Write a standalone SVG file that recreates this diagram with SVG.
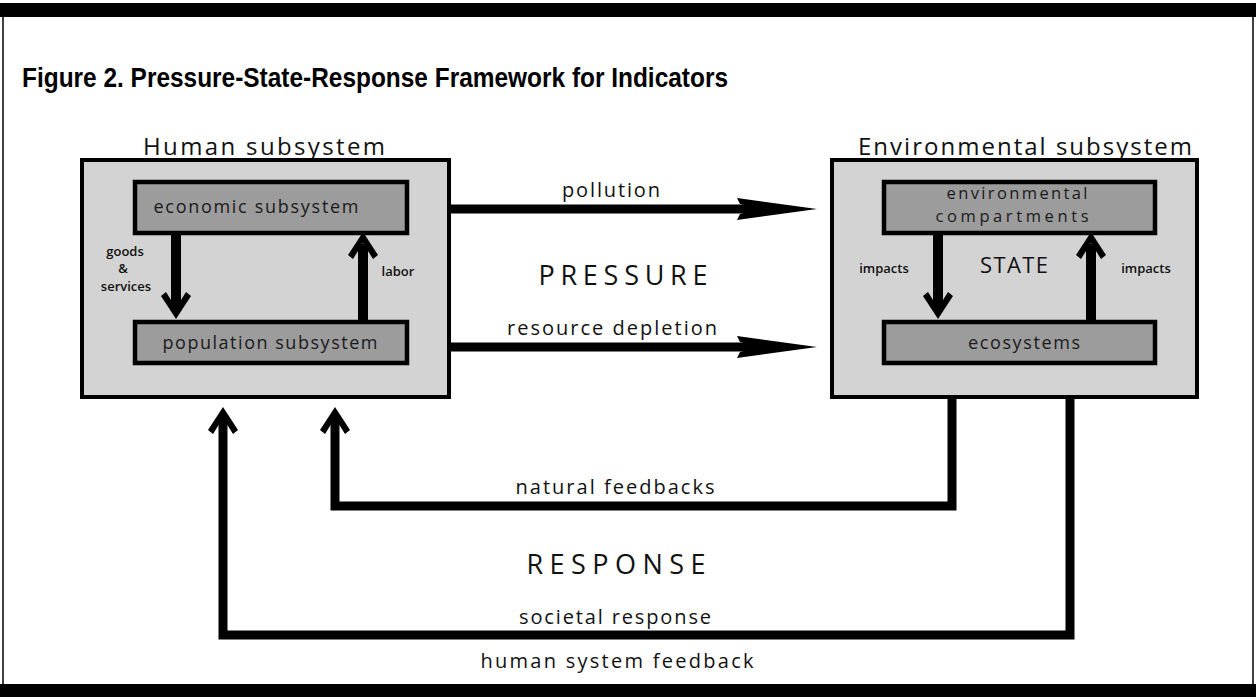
<svg xmlns="http://www.w3.org/2000/svg" width="1256" height="697" viewBox="0 0 1256 697">
  <style>
    .frame { fill: none; stroke: #000; stroke-width: 1.5; }
    .bar { fill: #000; }
    .outer { fill: #d3d3d3; stroke: #000; stroke-width: 4; }
    .inner { fill: #9c9c9c; stroke: #000; stroke-width: 4.5; }
    .t { font-family: "Open Sans", Lato, "Liberation Sans", sans-serif; fill: #111; text-anchor: middle; }
    .title { font-family: "Liberation Sans Narrow", "Liberation Sans", sans-serif; font-weight: bold; font-size: 28px; fill: #000; }
    .sub { font-size: 24px; }
    .box { font-size: 18px; fill: #1a1a1a; }
    .box2 { font-size: 16.5px; fill: #1a1a1a; }
    .small { font-size: 13px; font-weight: 600; }
    .lbl { font-size: 20px; }
    .big { font-size: 27px; }
    .line { fill: none; stroke: #000; stroke-width: 9; stroke-linejoin: miter; }
    .shaft { fill: none; stroke: #000; stroke-width: 10; }
    .head { fill: #000; }
  </style>
  <defs>
    <path id="chev" d="M0,0 L15,23 L10,27 L0,11 L-10,27 L-15,23 Z"/>
    <path id="barb" d="M0,0 L-80,-11 L-77,-5 L-57,0 L-77,5 L-80,11 Z"/>
  </defs>

  <!-- frame -->
  <rect class="bar" x="0" y="3" width="1256" height="14"/>
  <rect class="bar" x="0" y="684" width="1256" height="13"/>
  <line class="frame" x1="3" y1="17" x2="3" y2="684"/>
  <line class="frame" x1="1253" y1="17" x2="1253" y2="684"/>

  <text class="title" x="22" y="87" textLength="706" lengthAdjust="spacingAndGlyphs">Figure 2. Pressure-State-Response Framework for Indicators</text>

  <!-- Human subsystem -->
  <g id="human-subsystem">
    <text class="t sub" x="264" y="155" textLength="242" lengthAdjust="spacing">Human subsystem</text>
    <rect class="outer" x="82" y="160" width="367" height="237"/>
  </g>
  <g id="economic-subsystem">
    <rect class="inner" x="135" y="182" width="272" height="51"/>
    <text class="t box" x="256" y="213" textLength="205" lengthAdjust="spacing">economic subsystem</text>
  </g>
  <g id="population-subsystem">
    <rect class="inner" x="135" y="322" width="272" height="41"/>
    <text class="t box" x="270" y="349" textLength="215" lengthAdjust="spacing">population subsystem</text>
  </g>

  <!-- Environmental subsystem -->
  <g id="environmental-subsystem">
    <text class="t sub" x="1025" y="155" textLength="334" lengthAdjust="spacing">Environmental subsystem</text>
    <rect class="outer" x="832" y="160" width="365" height="237"/>
  </g>
  <g id="environmental-compartments">
    <rect class="inner" x="884" y="182" width="271" height="51"/>
    <text class="t box2" x="1017" y="199" textLength="141" lengthAdjust="spacing">environmental</text>
    <text class="t box2" x="1012" y="222" textLength="153" lengthAdjust="spacing">compartments</text>
  </g>
  <g id="ecosystems">
    <rect class="inner" x="884" y="322" width="271" height="41"/>
    <text class="t box" x="1024" y="349" textLength="112" lengthAdjust="spacing">ecosystems</text>
  </g>

  <!-- connectors -->
  <g id="connectors">
    <!-- goods & services (down) -->
    <line class="shaft" x1="176" y1="233" x2="176" y2="308"/>
    <use href="#chev" class="head" transform="translate(176,319) rotate(180)"/>
    <!-- labor (up) -->
    <line class="shaft" x1="363" y1="322" x2="363" y2="244"/>
    <use href="#chev" class="head" transform="translate(363,232)"/>
    <!-- impacts (down) -->
    <line class="shaft" x1="938" y1="233" x2="938" y2="308"/>
    <use href="#chev" class="head" transform="translate(938,319) rotate(180)"/>
    <!-- impacts (up) -->
    <line class="shaft" x1="1091" y1="322" x2="1091" y2="244"/>
    <use href="#chev" class="head" transform="translate(1091,232)"/>

    <!-- pollution -->
    <line class="line" x1="449" y1="209" x2="762" y2="209"/>
    <use href="#barb" class="head" transform="translate(817,209)"/>
    <!-- resource depletion -->
    <line class="line" x1="449" y1="347" x2="762" y2="347"/>
    <use href="#barb" class="head" transform="translate(817,347)"/>

    <!-- natural feedbacks -->
    <polyline class="line" points="952,397 952,506 335,506 335,418"/>
    <use href="#chev" class="head" transform="translate(335,407)"/>
    <!-- societal response -->
    <polyline class="line" points="1070,397 1070,635 223,635 223,418"/>
    <use href="#chev" class="head" transform="translate(223,407)"/>
  </g>

  <!-- labels -->
  <g id="labels">
    <text class="t small" x="125" y="256">goods</text>
    <text class="t small" x="123" y="273">&amp;</text>
    <text class="t small" x="126" y="291">services</text>
    <text class="t small" x="398" y="276">labor</text>
    <text class="t small" x="884" y="273">impacts</text>
    <text class="t small" x="1146" y="273">impacts</text>
    <text class="t" style="font-size:22px" x="1014" y="273" textLength="68" lengthAdjust="spacing">STATE</text>

    <text class="t lbl" x="611" y="197" textLength="98" lengthAdjust="spacing">pollution</text>
    <text class="t big" x="623" y="285" textLength="169" lengthAdjust="spacing">PRESSURE</text>
    <text class="t lbl" x="612" y="335" textLength="210" lengthAdjust="spacing">resource depletion</text>

    <text class="t lbl" x="615" y="494" textLength="199" lengthAdjust="spacing">natural feedbacks</text>
    <text class="t big" x="616" y="574" textLength="179" lengthAdjust="spacing">RESPONSE</text>
    <text class="t lbl" x="615" y="624" textLength="192" lengthAdjust="spacing">societal response</text>
    <text class="t lbl" x="617" y="668" textLength="273" lengthAdjust="spacing">human system feedback</text>
  </g>
</svg>
